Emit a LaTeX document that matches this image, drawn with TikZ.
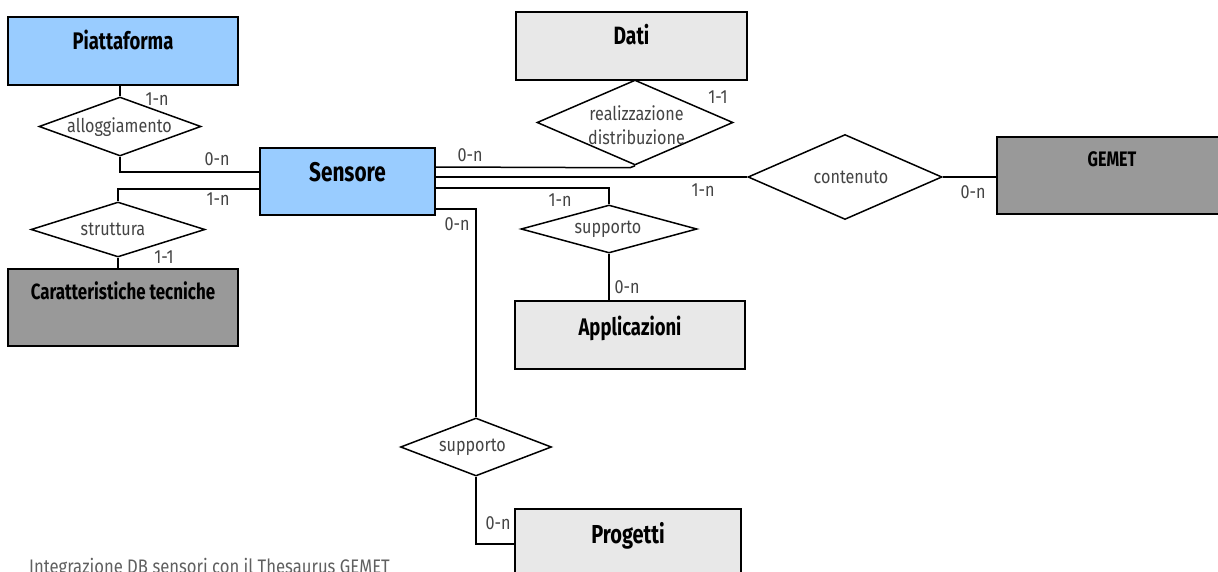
\documentclass[tikz,border=0pt]{standalone}
\usepackage{fontspec}
\setmainfont{Fira Sans}
\newfontfamily\entfont[FakeStretch=0.77]{Fira Sans}
\newfontfamily\relfont[FakeStretch=0.85]{Fira Sans}
\usetikzlibrary{shapes.geometric,calc}
\definecolor{entblue}{HTML}{99CCFF}
\definecolor{entlight}{HTML}{E8E8E8}
\definecolor{entdark}{HTML}{999999}
\definecolor{lbl}{HTML}{444444}
\newcommand{\efs}[1]{\entfont\bfseries\fontsize{#1}{#1}\selectfont}
\tikzset{
  entity/.style={draw=black, line width=1.5pt, inner sep=0pt},
  relation/.style={shape=diamond, draw=black, line width=1.5pt, inner sep=0pt, fill=white},
  reltext/.style={inner sep=0pt, text=lbl, align=center, font=\relfont\fontsize{19}{24}\selectfont},
  card/.style={inner sep=0pt, text=lbl, font=\relfont\fontsize{19}{19}\selectfont},
  link/.style={draw=black, line width=1.5pt},
}
\begin{document}
\begin{tikzpicture}[x=1pt, y=-1pt]
\clip (0,0) rectangle (1218,572);
\fill[white] (0,0) rectangle (1218,572);

% entities
\node[entity, fill=entblue, minimum width=230pt, text height=33pt, text depth=35pt, font=\efs{24}] (piat) at (123,51) {Piattaforma};
\node[entity, fill=entblue, minimum width=175pt, text height=34pt, text depth=33pt, font=\efs{27}] (sens) at (347.5,181.5) {Sensore};
\node[entity, fill=entdark, minimum width=230pt, text height=30pt, text depth=47pt, font=\efs{22}] (carat) at (123,307.5) {Caratteristiche tecniche};
\node[entity, fill=entlight, minimum width=231pt, text height=33pt, text depth=35pt, font=\efs{25}] (dati) at (631.5,46) {Dati};
\node[entity, fill=entlight, minimum width=230pt, text height=34pt, text depth=34pt, font=\efs{24}] (appl) at (630,335) {Applicazioni};
\node[entity, fill=entlight, minimum width=226pt, text height=34pt, text depth=36pt, font=\efs{26}] (prog) at (628,544) {Progetti};
\node[entity, fill=entdark, minimum width=230pt, text height=30pt, text depth=47pt, font=\efs{21}] (gemet) at (1112,175.5) {GEMET};

% relationships: diamond outlines, then their names
\node[relation, minimum width=162pt, minimum height=59pt] (allog) at (120,126.5) {};
\node[relation, minimum width=174pt, minimum height=55pt] (strut) at (118,229.5) {};
\node[relation, minimum width=196pt, minimum height=85pt] (real) at (635,122.5) {};
\node[relation, minimum width=176pt, minimum height=48pt] (supA) at (609,229) {};
\node[relation, minimum width=194pt, minimum height=85pt] (cont) at (845,177) {};
\node[relation, minimum width=151pt, minimum height=58pt] (supB) at (476,447) {};

\node[reltext] (allog-t) at (119.5,127) {alloggiamento};
\node[reltext] (strut-t) at (113,229) {struttura};
\node[reltext] (real-t) at (636.5,125) {realizzazione\\distribuzione};
\node[reltext] (supA-t) at (608,229) {supporto};
\node[reltext] (cont-t) at (851,177) {contenuto};
\node[reltext] (supB-t) at (472.5,447) {supporto};

% connectors
\draw[link] (allog.north |- piat.south) -- (allog.north);
\draw[link] (allog.south) |- ($(sens.west)+(0,-9.5)$);
\draw[link] ($(sens.west)+(0,7.5)$) -| (strut.north);
\draw[link] (strut.south) -- (strut.south |- carat.north);
\draw[link] (real.north) -- (real.north |- dati.south);
\draw[link] ($(sens.east)+(0,-14.5)$) -- ($(real.south)+(-5,2)$) -- (real.south);
\draw[link] (sens.east |- cont.west) -- (cont.west);
\draw[link] (cont.east) -- (cont.east -| gemet.west);
\draw[link] ($(sens.east)+(0,6.5)$) -| (supA.north);
\draw[link] (supA.south) -- (supA.south |- appl.north);
\draw[link] ($(sens.east)+(0,27.5)$) -| (supB.north);
\draw[link] (supB.south) |- (prog.west);

% cardinalities
\node[card] (c1) at (157,99) {1-n};
\node[card] (c2) at (217,159) {0-n};
\node[card] (c3) at (218,199) {1-n};
\node[card] (c4) at (164,257) {1-1};
\node[card] (c5) at (470,155) {0-n};
\node[card] (c6) at (718,97) {1-1};
\node[card] (c7) at (703,190) {1-n};
\node[card] (c8) at (973,192) {0-n};
\node[card] (c9) at (560,200) {1-n};
\node[card] (c10) at (627,287) {0-n};
\node[card] (c11) at (457,224) {0-n};
\node[card] (c12) at (498,523) {0-n};

% caption
\node[card, anchor=base west, text=lbl!85, font=\relfont\fontsize{19.6}{20}\selectfont] (cap) at (29,573) {Integrazione DB sensori con il Thesaurus GEMET};
\end{tikzpicture}
\end{document}
